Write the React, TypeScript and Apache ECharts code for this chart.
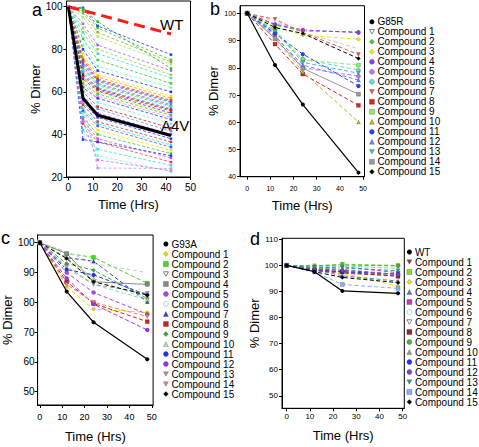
import React, { useEffect, useRef } from 'react';
import * as echarts from 'echarts';

const FONT = 'Liberation Sans, Arial, Helvetica, sans-serif';

// ---------- Panel a ----------
const timesA = [0, 6, 12, 42];
const wtTimesA = [0, 12, 42];
const wtValuesA = [100, 96.4, 87.2];
const a4vValuesA = [100, 57, 49, 39.5];
// values at 6, 12, 42 h (all start at 100)
const aCompoundValues = [
  [99.5, 91, 77.5], [98, 90, 75], [97, 88, 74], [95, 86, 73], [99, 93, 71],
  [92, 82, 70], [90, 80, 68], [88, 78, 66.5], [85, 75, 64], [82, 72, 62],
  [80, 70, 60], [78, 68, 58], [76, 67, 57], [75, 66, 56], [74, 65.5, 55.5],
  [73, 65, 55], [72, 64, 54], [71, 63.5, 53.5], [70, 63, 53], [69, 62, 52],
  [68, 61.5, 51.5], [67, 61, 51], [66, 60.5, 50], [65, 60, 49.5], [64, 59, 49],
  [63, 58, 48], [62, 57, 47], [61, 55, 45], [60, 53, 43], [58, 52, 41.5],
  [56, 50, 40], [55, 48, 38], [54, 46, 36.5], [52, 45, 35], [51, 44, 34],
  [50, 42, 32.5], [48, 40, 31], [47, 38, 29], [45, 36.5, 27], [42, 33, 25.5],
  [37.6, 36.5, 30], [55, 24.2, 24], [50, 30, 22.5], [46, 28, 23],
];
const aColors = [
  '#2233ff', '#33cc33', '#aaaa22', '#99ee66', '#22bb22',
  '#9966ff', '#aacc33', '#33dddd', '#33cc33', '#66ffcc',
  '#2233ff', '#ffdd00', '#ff9900', '#ff2222', '#666666',
  '#4466ff', '#dd44dd', '#33cc33', '#33dddd', '#9966ff',
  '#333333', '#ff2222', '#2233ff', '#ffdd00', '#33cc33',
  '#ff88cc', '#2233ff', '#66ffcc', '#cc2222', '#6699ff',
  '#9933ff', '#2233ff', '#cc3333', '#33dddd', '#4455ff',
  '#ffdd00', '#33cc33', '#dd44dd', '#ff3333', '#33dddd',
  '#2233ff', '#bb99ff', '#66ffcc', '#dd66ee',
];

// ---------- Panels b, c, d ----------
const timesBCD = [0, 12, 24, 48];
const compoundNames = [
  'Compound 1', 'Compound 2', 'Compound 3', 'Compound 4', 'Compound 5',
  'Compound 6', 'Compound 7', 'Compound 8', 'Compound 9', 'Compound 10',
  'Compound 11', 'Compound 12', 'Compound 13', 'Compound 14', 'Compound 15',
];

const bMutant = 'G85R';
const bMutantValues = [100, 81, 66.5, 41.5];
const bValues = [
  [100, 97, 93, 87], [100, 95.7, 93.5, 93.2], [100, 95, 92, 90.5], [100, 96, 93.9, 92.9],
  [100, 92, 80, 76.9], [100, 93, 83.2, 79.2], [100, 97.8, 93, 84.9], [100, 88.7, 77.7, 66.2],
  [100, 94, 82.9, 81], [100, 90.8, 78.5, 60.1], [100, 92.6, 85, 73.3], [100, 91.5, 81, 75.5],
  [100, 93.5, 82, 78], [100, 90.8, 79.8, 70.3], [100, 94.8, 92.6, 83.4],
];
const bColors = [
  '#c8c8c8', '#33cc33', '#eeee00', '#9933ff', '#cc66ff', '#66ddcc', '#ee5555', '#dd2222',
  '#88ee66', '#bbbb22', '#2244ff', '#6688ff', '#44bbaa', '#999999', '#000000',
];
const bSymbols = [
  'invEmpty', 'diamond', 'diamond', 'circle', 'circle', 'circle', 'inv', 'rect',
  'rect', 'triangle', 'circle', 'triangle', 'inv', 'rect', 'diamond',
];
const bSolid = [false, false, false, false, false, false, false, false, false, false, false, false, false, true, false];

const cMutant = 'G93A';
const cMutantValues = [100, 83.6, 73.3, 60.9];
const cValues = [
  [100, 85.2, 77.7, 76.6], [100, 96.4, 95.1, 86.4], [100, 97, 93, 90], [100, 96.4, 86.9, 86],
  [100, 90, 83.3, 76], [100, 91.4, 86, 80.8], [100, 95, 93.8, 80.2], [100, 86.9, 79.6, 73.5],
  [100, 93, 90.8, 81.3], [100, 95, 88, 81], [100, 91, 89.2, 82.5], [100, 88, 79.4, 70.7],
  [100, 92, 86, 83], [100, 86, 80, 75.2], [100, 94.7, 86.9, 82.4],
];
const cColors = [
  '#eedd00', '#44dd22', '#cccccc', '#888888', '#aa44ee', '#88ddcc', '#3344cc', '#cc2222',
  '#33aa33', '#bbdd99', '#2233ee', '#9933ff', '#999999', '#ff7777', '#000000',
];
const cSymbols = [
  'diamond', 'rect', 'invEmpty', 'rect', 'circle', 'emptyCircle', 'triangle', 'rect',
  'diamond', 'triangle', 'circle', 'circle', 'inv', 'inv', 'diamond',
];
const cSolid = [false, false, false, true, false, false, false, false, false, false, false, false, false, false, false];

const dMutant = 'WT';
const dMutantValues = [100, 97.6, 90.2, 89.3];
const dValues = [
  [100, 98, 97, 96], [100, 99.8, 100.5, 100], [100, 99, 97, 92.1], [100, 98.5, 96, 94],
  [100, 99, 99.5, 97.2], [100, 99.5, 99.8, 98.9], [100, 99, 98, 96], [100, 98.5, 97.5, 95.8],
  [100, 99.8, 100.2, 99.8], [100, 99, 98.5, 96.5], [100, 98, 97.6, 96.7], [100, 98.5, 98.2, 96.5],
  [100, 99.2, 99, 98], [100, 97.5, 92.7, 91.2], [100, 97.6, 95.4, 93.4],
];
const dColors = [
  '#aa3333', '#88dd22', '#eedd00', '#6677aa', '#cc33cc', '#66dddd', '#aaaaaa', '#992222',
  '#33bb33', '#999999', '#2233ee', '#7744cc', '#339988', '#88aaff', '#000000',
];
const dSymbols = [
  'inv', 'rect', 'diamond', 'triangle', 'rect', 'emptyCircle', 'invEmpty', 'rect',
  'circle', 'triangle', 'circle', 'circle', 'inv', 'rect', 'diamond',
];
const dSolid = [false, false, false, false, false, false, false, false, false, false, false, false, false, false, false];

const INV_PATH = 'path://M0,0L10,0L5,9Z';

function seriesSymbol(s: string) {
  if (s === 'inv') return { symbol: 'triangle', symbolRotate: 180 };
  if (s === 'invEmpty') return { symbol: 'emptyTriangle', symbolRotate: 180 };
  return { symbol: s, symbolRotate: 0 };
}
function legendIcon(s: string) {
  if (s === 'inv' || s === 'invEmpty') return INV_PATH;
  if (s === 'emptyCircle') return 'circle';
  return s;
}

function buildPanel(
  prefix: string, idx: number, mutant: string, mutantVals: number[],
  vals: number[][], colors: string[], symbols: string[], solid: boolean[],
) {
  const series: any[] = [];
  const legendData: any[] = [];
  series.push({
    name: prefix + mutant, type: 'line', xAxisIndex: idx, yAxisIndex: idx,
    data: timesBCD.map((t, i) => [t, mutantVals[i]]),
    symbol: 'circle', symbolSize: 4, z: 5,
    lineStyle: { color: '#000', width: 1.2 }, itemStyle: { color: '#000' },
  });
  legendData.push({ name: prefix + mutant, icon: 'circle', itemStyle: { color: '#000' } });
  vals.forEach((v, k) => {
    const sym = seriesSymbol(symbols[k]);
    const hollow = symbols[k] === 'invEmpty' || symbols[k] === 'emptyCircle';
    series.push({
      name: prefix + compoundNames[k], type: 'line', xAxisIndex: idx, yAxisIndex: idx,
      data: timesBCD.map((t, i) => [t, v[i]]),
      symbol: sym.symbol, symbolRotate: sym.symbolRotate, symbolSize: 4,
      lineStyle: { color: colors[k], width: 1, type: solid[k] ? 'solid' : [4, 2.5] },
      itemStyle: hollow
        ? { color: '#fff', borderColor: colors[k], borderWidth: 0.8 }
        : { color: colors[k], borderColor: 'rgba(0,0,0,0.45)', borderWidth: 0.4 },
    });
    legendData.push({
      name: prefix + compoundNames[k], icon: legendIcon(symbols[k]),
      itemStyle: hollow
        ? { color: '#fff', borderColor: symbols[k] === 'invEmpty' ? '#666' : colors[k], borderWidth: 0.8 }
        : { color: colors[k], borderColor: 'rgba(0,0,0,0.5)', borderWidth: 0.4 },
    });
  });
  return { series, legendData };
}

const nameStyle = { fontSize: 13, color: '#000', fontFamily: FONT, fontWeight: 'normal' };

function xAxisCfg(gridIndex: number, min: number, max: number, fontSize: number, margin: number, nameGap: number) {
  const ticks = [0, 10, 20, 30, 40, 50];
  return {
    gridIndex, type: 'value', min, max,
    axisLine: { show: true, onZero: false, lineStyle: { color: '#000', width: 1 } },
    axisTick: { show: true, length: 3, customValues: ticks, lineStyle: { color: '#000' } },
    axisLabel: { customValues: ticks, fontSize, margin, color: '#000', fontFamily: FONT },
    splitLine: { show: false },
    name: 'Time (Hrs)', nameLocation: 'middle', nameGap,
    nameTextStyle: nameStyle,
  };
}
function yAxisCfg(gridIndex: number, min: number, max: number, ticks: number[], fontSize: number, margin: number, nameGap: number) {
  return {
    gridIndex, type: 'value', min, max,
    axisLine: { show: true, onZero: false, lineStyle: { color: '#000', width: 1 } },
    axisTick: { show: true, length: 3, customValues: ticks, lineStyle: { color: '#000' } },
    axisLabel: { customValues: ticks, fontSize, margin, color: '#000', fontFamily: FONT },
    splitLine: { show: false },
    name: '% Dimer', nameLocation: 'middle', nameGap,
    nameTextStyle: nameStyle,
  };
}

function legendCfg(left: number, top: number, data: any[], lineHeight: number) {
  return {
    orient: 'vertical', left, top, itemWidth: 5, itemHeight: 5, itemGap: 0,
    selectedMode: false, data, padding: 0,
    formatter: (n: string) => n.slice(2),
    textStyle: { fontSize: 10, lineHeight, color: '#000', fontFamily: FONT, padding: [0, 0, 0, -2] },
  };
}

const letterStyle = { fontSize: 18, fill: '#000', fontFamily: FONT };

export default function App() {
  const ref = useRef<HTMLDivElement>(null);
  useEffect(() => {
    if (!ref.current) return;
    const chart = echarts.init(ref.current, undefined, { renderer: 'svg' });

    const aSeries: any[] = aCompoundValues.map((v, k) => ({
      name: 'a:' + (k + 1), type: 'line', xAxisIndex: 0, yAxisIndex: 0,
      data: timesA.map((t, i) => [t, i === 0 ? 100 : v[i - 1]]),
      symbol: 'rect', symbolSize: 2.5,
      lineStyle: { color: aColors[k], width: 0.8, type: [3, 2] },
      itemStyle: { color: aColors[k] },
    }));
    aSeries.push({
      name: 'a:WT', type: 'line', xAxisIndex: 0, yAxisIndex: 0, z: 6,
      data: wtTimesA.map((t, i) => [t, wtValuesA[i]]),
      symbol: 'none', lineStyle: { color: '#ff1a1a', width: 3, type: [11, 6] },
    });
    aSeries.push({
      name: 'a:A4V', type: 'line', xAxisIndex: 0, yAxisIndex: 0, z: 6,
      data: timesA.map((t, i) => [t, a4vValuesA[i]]),
      symbol: 'none', lineStyle: { color: '#000', width: 3 },
    });

    const pb = buildPanel('b:', 1, bMutant, bMutantValues, bValues, bColors, bSymbols, bSolid);
    const pc = buildPanel('c:', 2, cMutant, cMutantValues, cValues, cColors, cSymbols, cSolid);
    const pd = buildPanel('d:', 3, dMutant, dMutantValues, dValues, dColors, dSymbols, dSolid);

    const gridBase = { show: true, borderColor: '#000', borderWidth: 1, backgroundColor: 'transparent' };
    const option: any = {
      animation: false,
      textStyle: { fontFamily: FONT },
      grid: [
        { ...gridBase, left: 66.5, top: 1, width: 124, height: 176 },
        { ...gridBase, left: 240, top: 5.7, width: 124.5, height: 171 },
        { ...gridBase, left: 34.4, top: 235, width: 118.7, height: 170 },
        { ...gridBase, left: 282, top: 238.3, width: 122.3, height: 170 },
      ],
      xAxis: [
        xAxisCfg(0, -0.75, 50, 10, 5, 21),
        xAxisCfg(1, -3.1, 50.6, 7, 8, 22),
        xAxisCfg(2, -1, 50.6, 9, 7, 25),
        xAxisCfg(3, -2, 50.7, 8, 4, 21),
      ],
      yAxis: [
        yAxisCfg(0, 20, 102.7, [20, 40, 60, 80, 100], 10, 4, 17),
        yAxisCfg(1, 40, 102.8, [40, 50, 60, 70, 80, 90, 100], 7, 4, 15.5),
        yAxisCfg(2, 45.5, 102.6, [50, 60, 70, 80, 90, 100], 10, 3, 20.5),
        yAxisCfg(3, 45.2, 110.4, [50, 60, 70, 80, 90, 100, 110], 8, 4, 20.5),
      ],
      legend: [
        legendCfg(369, 16.8, pb.legendData, 9.75),
        legendCfg(163, 239, pc.legendData, 9.87),
        legendCfg(406.5, 247, pd.legendData, 9.4),
      ],
      series: [...aSeries, ...pb.series, ...pc.series, ...pd.series],
      graphic: [
        { type: 'text', left: 32, top: 1, style: { text: 'a', ...letterStyle } },
        { type: 'text', left: 210, top: 0, style: { text: 'b', ...letterStyle } },
        { type: 'text', left: 1, top: 229, style: { text: 'c', ...letterStyle } },
        { type: 'text', left: 250, top: 230, style: { text: 'd', ...letterStyle } },
        { type: 'text', left: 160, top: 17, style: { text: 'WT', fontSize: 15, fill: '#000', fontFamily: FONT } },
        { type: 'text', left: 161, top: 118, style: { text: 'A4V', fontSize: 15, fill: '#000', fontFamily: FONT } },
      ],
    };
    chart.setOption(option);
    return () => chart.dispose();
  }, []);
  return (
    <div
      ref={ref}
      style={{ position: 'fixed', left: 0, top: 0, width: 479, height: 447, background: '#fff' }}
    />
  );
}
